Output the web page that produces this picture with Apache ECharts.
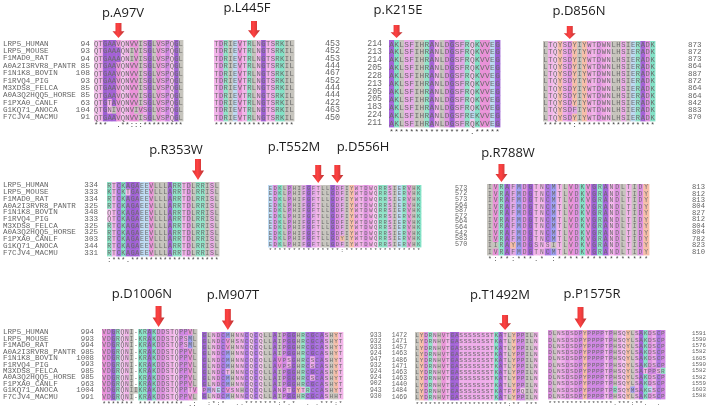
<!DOCTYPE html>
<html><head><meta charset="utf-8">
<script src="https://cdn.jsdelivr.net/npm/echarts@6.0.0/dist/echarts.min.js"></script>
<style>html,body{margin:0;padding:0;background:#fff}#c{width:709px;height:408px}</style>
</head><body><div id="c"></div>
<script>
// ---------- DATA ----------
const names = ['LRP5_HUMAN','LRP5_MOUSE','F1MAD0_RAT','A0A2I3RVR8_PANTR','F1N1K8_BOVIN','F1RVQ4_PIG','M3XDS8_FELCA','A0A3Q2HQQ5_HORSE','F1PXA0_CANLF','G1KQ71_ANOCA','F7CJV4_MACMU'];

// Row 1
const a97vStart = [94,93,94,85,108,93,85,85,63,104,91];
const a97vSeqs = ['QTGAAVQNVVISGLVSPQGL','QTGAAAQNIVISGLVSPQGL','QTGAAAQNIVISGLVSPQGL','QTGAAVQNVVISGLVSPQGL','QTGAAVQNVVISGLVSPQGL','QTGAAVQNVVISGLVSPQGL','QTGAAVQNVVISGLVSPQGL','QTGAAVQNVVISGLVSPQGL','QTGTAVQNVVISGLVSPQGL','QTGNIVQNVIVSGLVSPQGL','QTGAAVQNVVISGLVSPQGL'];
const a97vCons = '***  .**:::*********';
const a97vMut = [5];

const l445fSeqs = Array(11).fill('TDRIEVTRLNGTSRKIL');
const l445fEnd = [453,452,453,444,467,452,444,444,422,463,450];
const l445fCons = '*****************';
const l445fMut = [8];

const k215eStart = [214,213,214,205,228,213,205,205,183,224,211];
const k215eSeqs = ['AKLSFIHRANLDGSFRQKVVEG','AKLSFIHRANLDGSFRQKVVEG','AKLSFIHRANLDGSFRQKVVEG','AKLSFIHRANLDGSFRQKVVEG','AKLSFIHRANLDGSFRQKVVEG','AKLSFIHRANLDGSFRQKVVEG','AKLSFIHRANLDGSFRQKVVEG','AKLSFIHRANLDGSFRQKVVEG','AKLSFIHRANLDGSFRQKVVEG','AKLSFIHRANLDGSFREKVVEG','AKLSFIHRANLDGSFRQKVVEG'];
const k215eCons = '****************.*****';
const k215eMut = [1];

const d856nSeqs = ['LTQYSDYIYWTDWNLHSIERADK','LTQYSDYIYWTDWNLHSIERADK','LTQYSDYIYWTDWNLHSIERADK','LTQYSDYIYWTDWNLHSIERADK','LTQYSDYIYWTDWNLHSIERADK','LTQYSDYIYWTDWNLHSIERADK','LTQYSDYIYWTDWNLHSIERADK','LTQYSDYIYWTDWNLHSIERADK','LTQYSDYIYWTDWNLHSIERADK','LTQYSDFIYWTDWNLHSIERADK','LTQYSDYIYWTDWNLHSIERADK'];
const d856nEnd = [873,872,873,864,887,872,864,864,842,883,870];
const d856nCons = '******:****************';
const d856nMut = [5];

// Row 2
const r353wStart = [334,333,334,325,348,333,325,325,303,344,331];
const r353wSeqs = ['RTCKAGAEEVLLLARRTDLRRISL','KTCKTGAEEVLLLARRTDLRRISL','RTCKAGAEEVLLLARRTDLRRISL','RTCKAGAEEVLLLARRTDLRRISL','QTCKAGAEEVLLLARRTDLRRISL','QTCKAGAEEVLLLARRTDLRRISL','RTCKAGAEEVLLLARRTDLRRISL','RTCKAGAEEVLLLARRTDLRRISL','RTCKAGAEEVLLLARRTDLRRISL','RTCKAGAEEVLLLARRTDLRRISL','RTCKAGAEEVLLLARRTDLRRISL'];
const r353wCons = ':***.*******************';
const r353wMut = [19];

const t552mSeqs = ['EDKLPHIFGFTLLGDFIYWTDWQRRSIERVHK','EDKLPHIFGFTLLGDFIYWTDWQRRSIERVHK','EDKLPHIFGFTLLGDFIYWTDWQRRSIERVHK','EDKLPHIFGFTLLGDFIYWTDWQRRSIERVHK','EDKLPHIFGFTLLGDFIYWTDWQRRSIERVHK','EDKLPHIFGFTLLGDFIYWTDWQRRSIERVHK','EDKLPHIFGFTLLGDFIYWTDWQRRSIERVHK','EDKLPHIFGFTLLGDFIYWTDWQRRSIERVHK','EDKLPHIFGFTLLGDFIYWTDWQRRSIERVHK','EDKLPHIFGFTLLGDYIYWTDWQRRSIERVHK','EDKLPHIFGFTLLGDFIYWTDWQRRSIERVHK'];
const t552mEnd = [573,572,573,564,587,572,564,564,542,583,570];
const t552mCons = '***************:****************';
const t552mMut = [10, 14];

const r788wSeqs = ['IVRAFMDGTNCMTLVDKVGRANDLTIDY','IVRAFMDGTNCMTLVDKVGRANDLTIDY','IVRAFMDGTNCMTLVDKVGRANDLTIDY','IVRAFMDGTNCMTLVDKVGRANDLTIDY','IVRAFMDGTNCMTLVDKVGRANDLTIDY','IVRAFMDGTNCMTLVDKVGRANDLTIDY','IVRAFMDGTNCMTLVDKVGRANDLTIDY','IVRAFMDGTNCMTLVDKVGRANDLTIDY','IVRAFMDGTNCMTLVDKVGRANDLTIDY','IIRAYMDGSNSITLVDKVGRANDLTIDY','IVRAFMDGTNCMTLVDKVGRANDLTIDY'];
const r788wEnd = [813,812,813,804,827,812,804,804,782,823,810];
const r788wCons = '*:**:***.* :****************';
const r788wMut = [2];

// Row 3
const d1006nStart = [994,993,994,985,1008,993,985,985,963,1004,991];
const d1006nSeqs = ['VDGRQNI-KRAKDDSTQPPVL','VDGRQNI-KRAKDDSTQPSML','VDGRQNI-KRAKDDSTQPSML','VDGRQNI-KRAKDDSTQPPVL','VDGRQNI-KRAKDDSTQPPVL','VDGRQNI-KRAKDDSTQPPVL','VDGRQNI-KRAKDDSTQPPVL','VDGRQNI-KRAKDDSTQPPVL','VDGRQNI-KRAKDDSTQPPVL','VDGRQNIIKRAKDDSTQPPTV','VDGRQNI-KRAKDDSTQPPVL'];
const d1006nCons = '******* ********** .:';
const d1006nMut = [12];

const m907tSeqs = ['GLNDCMHNNCQCQLLAIPGGHRCGCASHYT','GLNDCVHSNCQCQLLAIPGGHRCGCASHYT','GLNDCVHNNCQCQLLAIPGGHRCGCASHYT','GLNDCMHNNCQCQLLAIPGGHRCGCASHYT','GLNDCMHNNCQCQLLAVPSGHRCSCASHYT','GLNDCMHNNCQCQLLAVPSGHRCSCASHYT','GLNDCTHNNCQCQLLAIPGGHRCGCASHYT','GLNDCMHNNCQCQLLAIPGGHRCSCASHYT','GLNDCMHNNCQCQLLAIPGGHRCGCASHYT','PMNECVSNHCQCQLLANPTGYTRCCASHYT','GLNDCMHNNCQCQLLAIPGGHRCGCASHHT'];
const m907tEnd = [933,932,933,924,947,932,924,924,902,943,930];
const m907tCons = ' :*:*  ..*******:*.*  . .***:*';
const m907tMut = [5];

const t1492mStart = [1472,1471,1457,1463,1486,1471,1463,1463,1440,1484,1469];
const t1492mSeqs = ['LYDRNHVTGASSSSSSSTKATLYPPILN','LYDRNHVTGASSSSSSSTKATLYPPILN','LYDRNHVTGASSSSSSSTKATLYPPILN','LYDRNHVTGASSSSSSSTKATLYPPILN','LYDRNHVTGASSSSSSSTKATLYPPILN','LYDRNHVTGASSSSSSSTKATLYPPILN','LYDRNHVTGASSSSSSSTKATLYPPILN','LYDRNHVTGASSSSSSSTKATLYPPILN','LYDRNHVTGASSSSSSSTKATLYPPILN','LYDRNHVTGASSSSSSSTKATFYPQILN','LYDRNHVTGASSSSSSSTKATLYPPILN'];
const t1492mCons = '*********************:** ***';
const t1492mMut = [20];

const p1575rSeqs = ['DLNSDSDPYPPPPTPHSQYLSAKDSCP','DLNSDSDPYPPPPTPHSQYLSAKDSCP','DLNSDSDPYPPPPTPHSQYLSAKDSCP','DLNSDSDPYPPPPTPHSQYLSAKDSCP','DLNSDSDPYPPPPTPHSQYLSAKDSCP','DLNSDSDPYPPPPTPHSQYLSAKDSCP','DLNSDSDPYPPPPTPHSQYLSATPPSR','DLNSDSDPYPPPPTPHSQYLSAKDSCP','DLNSDSDPYPPPPTPHSQYLSAKDSCP','DLNSDSDPYPPPPTPRSQYMSAKESCP','DLNSDSDPYPPPPTPHSQYLSAKDSCP'];
const p1575rEnd = [1591,1590,1576,1582,1605,1590,1582,1582,1559,1603,1588];
const p1575rCons = '***************.***:**.  . ';
const p1575rMut = [7];

const mutLabels = ['p.A97V','p.L445F','p.K215E','p.D856N','p.R353W','p.T552M','p.D556H','p.R788W','p.D1006N','p.M907T','p.T1492M','p.P1575R'];

// ---------- STYLE / LAYOUT ----------
const residueColor = {
  A:'#a462d6', G:'#9c5fd2', C:'#ab74e0', P:'#cf86e2', L:'#c6c4bd', I:'#c6c4bd',
  V:'#ea92d8', M:'#9c9ef2', F:'#e2a8e6', W:'#f0a6e4', Y:'#f6bea8', H:'#c9c5bd',
  S:'#eeabea', T:'#f2b5e9', N:'#f2b4ea', Q:'#f6c8ef', D:'#df92e1', E:'#bcd9f2',
  K:'#82e2c6', R:'#90e4c8', '-':'#ffffff'
};
const MONO = '"Liberation Mono", "DejaVu Sans Mono", monospace';

const blocks = [
  {seqs:a97vSeqs, cons:a97vCons, muts:a97vMut, left:94, top:40, width:89, height:81, names:true, nameX:3, nameFs:7.6, left2:a97vStart, leftM:4, nfs:8, arrowH:15},
  {seqs:l445fSeqs, cons:l445fCons, muts:l445fMut, left:214, top:40, width:80, height:81, right2:l445fEnd, rightM:31, nfs:8.4, arrowH:17},
  {seqs:k215eSeqs, cons:k215eCons, muts:k215eMut, left:389, top:40, width:111, height:87, left2:k215eStart, leftM:7, nfs:8.2, arrowH:13},
  {seqs:d856nSeqs, cons:d856nCons, muts:d856nMut, left:543, top:41, width:112, height:80, right2:d856nEnd, rightM:33, nfs:7.6, arrowH:13},
  {seqs:r353wSeqs, cons:r353wCons, muts:r353wMut, left:107, top:182, width:112, height:74, names:true, nameX:3, nameFs:7.6, left2:r353wStart, leftM:9, nfs:7.6, arrowH:21},
  {seqs:t552mSeqs, cons:t552mCons, muts:t552mMut, left:268, top:185, width:153, height:62, right2:t552mEnd, rightM:34, nfs:6.8, arrowH:18},
  {seqs:r788wSeqs, cons:r788wCons, muts:r788wMut, left:487, top:184, width:162, height:71, right2:r788wEnd, rightM:43, nfs:7.2, arrowH:18},
  {seqs:d1006nSeqs, cons:d1006nCons, muts:d1006nMut, left:102, top:329, width:95, height:71, names:true, nameX:3, nameFs:7.6, left2:d1006nStart, leftM:8, nfs:7.4, arrowH:21},
  {seqs:m907tSeqs, cons:m907tCons, muts:m907tMut, left:202, top:332, width:141, height:67, right2:m907tEnd, rightM:27, nfs:6.4, arrowH:21},
  {seqs:t1492mSeqs, cons:t1492mCons, muts:t1492mMut, left:415, top:332, width:123, height:68, left2:t1492mStart, leftM:8, nfs:6.4, arrowH:15},
  {seqs:p1575rSeqs, cons:p1575rCons, muts:p1575rMut, left:548, top:330, width:117, height:69, right2:p1575rEnd, rightM:27, nfs:5.8, arrowH:21}
];
const labelPos = [[123,13],[247,8],[398,10],[579,11],[176,150],[294,147],[363,147],[508,153],[142,294],[233,295],[500,295],[592,294]];

const arrowPath = 'path://M3,0L9,0L9,11L12,11L6,20L0,11L3,11Z';
const arrowColor = new echarts.graphic.LinearGradient(0,0,1,0,[{offset:0,color:'#c40000'},{offset:0.45,color:'#ff1212'},{offset:1,color:'#a60000'}]);

const grids = [], xAxes = [], yAxes = [], series = [];
blocks.forEach((b, gi) => {
  const nCol = b.seqs[0].length, nRow = b.seqs.length;
  const cw = b.width / nCol, ch = b.height / nRow;
  const fs = Math.min(cw / 0.6, ch * 0.98);
  grids.push({left:b.left, top:b.top, width:b.width, height:b.height, containLabel:false, outerBoundsMode:'none'});
  const xi = xAxes.length;
  xAxes.push({type:'category', gridIndex:gi, data:b.seqs[0].split('').map((_,i)=>String(i)), boundaryGap:true,
    axisLine:{show:false}, axisTick:{show:false}, splitLine:{show:false},
    axisLabel:{interval:0, margin:1, fontSize:Math.min(fs,7.5), fontFamily:MONO, color:'#444', formatter:(v,i)=>b.cons[i]}});
  const yi = yAxes.length;
  const baseY = {type:'category', gridIndex:gi, inverse:true, axisLine:{show:false}, axisTick:{show:false}, splitLine:{show:false}};
  yAxes.push(Object.assign({}, baseY, {data:names.map((_,i)=>String(i)), axisLabel:{show:false}}));
  if (b.names) {
    yAxes.push(Object.assign({}, baseY, {position:'left', data:names,
      axisLabel:{interval:0, align:'left', margin:b.left - b.nameX, fontSize:b.nameFs, fontFamily:MONO, color:'#666'}}));
  }
  if (b.left2) {
    yAxes.push(Object.assign({}, baseY, {position:'left', data:b.left2.map(String),
      axisLabel:{interval:0, align:'right', margin:b.leftM, fontSize:b.nfs, fontFamily:MONO, color:'#666'}}));
  }
  if (b.right2) {
    yAxes.push(Object.assign({}, baseY, {position:'right', data:b.right2.map(String),
      axisLabel:{interval:0, align:'left', margin:b.rightM, fontSize:b.nfs, fontFamily:MONO, color:'#666'}}));
  }
  const data = [];
  for (let r = 0; r < nRow; r++) for (let c = 0; c < nCol; c++) data.push([c, r]);
  const seqs = b.seqs;
  series.push({type:'custom', xAxisIndex:xi, yAxisIndex:yi, data:data, silent:true,
    renderItem:function(params, api){
      const c = api.value(0), r = api.value(1);
      const chr = seqs[r][c];
      const p = api.coord([c, r]);
      const s = api.size([1, 1]);
      return {type:'group', children:[
        {type:'rect', shape:{x:p[0]-s[0]/2, y:p[1]-s[1]/2, width:s[0]+0.4, height:s[1]+0.4}, style:{fill:residueColor[chr] || '#eee'}},
        {type:'text', style:{text:chr, x:p[0], y:p[1]+0.5, align:'center', verticalAlign:'middle', fill:'#6b6b6b', font:fs.toFixed(1)+'px '+MONO}}
      ]};
    }});
  series.push({type:'scatter', xAxisIndex:xi, yAxisIndex:yi, clip:false, silent:true, z:10,
    data:b.muts.map(m => [m, 0]),
    symbol:arrowPath, symbolKeepAspect:false, symbolSize:[12, b.arrowH],
    symbolOffset:[0, -(ch/2 + 2 + b.arrowH/2)],
    itemStyle:{color:arrowColor}});
});

const graphic = mutLabels.map((t, i) => ({type:'text', x:labelPos[i][0], y:labelPos[i][1],
  style:{text:t, align:'center', verticalAlign:'middle', font:'13px "Open Sans", sans-serif', fill:'#1c1c1c'}}));

const chart = echarts.init(document.getElementById('c'), null, {renderer:'canvas'});
chart.setOption({animation:false, backgroundColor:'#ffffff', grid:grids, xAxis:xAxes, yAxis:yAxes, series:series, graphic:graphic});
</script>
</body></html>
